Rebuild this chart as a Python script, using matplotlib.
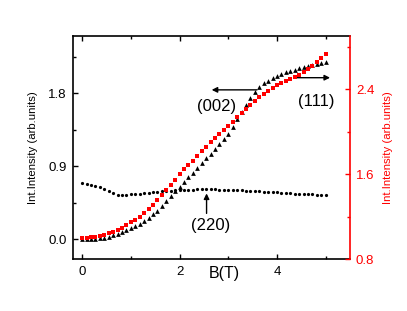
import matplotlib
matplotlib.use("Agg")
import matplotlib.pyplot as plt
from matplotlib.ticker import FixedLocator

plt.rcParams['font.family'] = ['Liberation Sans', 'DejaVu Sans']

# Field values B (T)
field = [0.000, 0.091, 0.182, 0.273, 0.364, 0.455, 0.545, 0.636, 0.727, 0.818,
         0.909, 1.000, 1.091, 1.182, 1.273, 1.364, 1.455, 1.545, 1.636, 1.727,
         1.818, 1.909, 2.000, 2.091, 2.182, 2.273, 2.364, 2.455, 2.545, 2.636,
         2.727, 2.818, 2.909, 3.000, 3.091, 3.182, 3.273, 3.364, 3.455, 3.545,
         3.636, 3.727, 3.818, 3.909, 4.000, 4.091, 4.182, 4.273, 4.364, 4.455,
         4.545, 4.636, 4.727, 4.818, 4.909, 5.000]

# (002) peak intensity, left axis (black triangles)
i002 = [0.000, 0.001, 0.003, 0.006, 0.010, 0.018, 0.030, 0.045, 0.065, 0.088,
        0.111, 0.137, 0.162, 0.192, 0.228, 0.264, 0.305, 0.352, 0.405, 0.470,
        0.530, 0.590, 0.640, 0.700, 0.760, 0.820, 0.875, 0.935, 0.995, 1.055,
        1.110, 1.170, 1.235, 1.300, 1.385, 1.480, 1.570, 1.650, 1.735, 1.810,
        1.870, 1.920, 1.955, 1.985, 2.010, 2.035, 2.055, 2.075, 2.090, 2.105,
        2.118, 2.132, 2.145, 2.158, 2.170, 2.182]

# (220) peak intensity, left axis (black circles)
i220 = [0.687, 0.678, 0.670, 0.654, 0.637, 0.617, 0.592, 0.565, 0.548, 0.543,
        0.545, 0.550, 0.555, 0.561, 0.566, 0.570, 0.575, 0.582, 0.588, 0.592,
        0.597, 0.600, 0.604, 0.607, 0.609, 0.611, 0.612, 0.613, 0.613, 0.613,
        0.612, 0.611, 0.610, 0.608, 0.606, 0.604, 0.601, 0.598, 0.595, 0.592,
        0.589, 0.585, 0.582, 0.578, 0.575, 0.571, 0.568, 0.565, 0.562, 0.559,
        0.556, 0.553, 0.550, 0.548, 0.546, 0.544]

# (111) peak intensity, right axis (red squares)
i111 = [1.003, 1.005, 1.008, 1.012, 1.019, 1.030, 1.045, 1.058, 1.075, 1.098,
        1.123, 1.148, 1.173, 1.203, 1.236, 1.274, 1.315, 1.360, 1.410, 1.455,
        1.500, 1.550, 1.600, 1.650, 1.690, 1.730, 1.775, 1.820, 1.860, 1.900,
        1.940, 1.980, 2.020, 2.057, 2.095, 2.135, 2.174, 2.215, 2.255, 2.290,
        2.325, 2.355, 2.385, 2.413, 2.440, 2.462, 2.478, 2.495, 2.512, 2.535,
        2.560, 2.590, 2.620, 2.655, 2.695, 2.735]

x_major = [0, 2, 4]
x_minor = [1, 3, 5]
yl_major = [0.0, 0.9, 1.8]
yl_minor = [0.45, 1.35, 2.25]
yr_major = [0.8, 1.6, 2.4]
yr_minor = [1.2, 2.0, 2.8]

RED = '#ff0000'

fig = plt.figure(figsize=(4.07, 3.11), dpi=100)
ax = fig.add_axes([0.179, 0.166, 0.681, 0.719])
ax2 = ax.twinx()

ax.plot(field, i002, linestyle='none', marker='^', color='black', ms=3.4,
        markeredgewidth=0, zorder=3)
ax.plot(field, i220, linestyle='none', marker='o', color='black', ms=2.3,
        markeredgewidth=0, zorder=3)
ax2.plot(field, i111, linestyle='none', marker='s', color=RED, ms=2.5,
         markeredgewidth=0, zorder=2)

ax.set_xlim(-0.19, 5.5)
ax.set_ylim(-0.25, 2.507)
ax2.set_ylim(0.8, 2.904)

ax.xaxis.set_major_locator(FixedLocator(x_major))
ax.xaxis.set_minor_locator(FixedLocator(x_minor))
ax.yaxis.set_major_locator(FixedLocator(yl_major))
ax.yaxis.set_minor_locator(FixedLocator(yl_minor))
ax2.yaxis.set_major_locator(FixedLocator(yr_major))
ax2.yaxis.set_minor_locator(FixedLocator(yr_minor))
ax.set_xticklabels([str(v) for v in x_major])
ax.set_yticklabels(['%.1f' % v for v in yl_major])
ax2.set_yticklabels(['%.1f' % v for v in yr_major])

ax.tick_params(which='both', direction='in', top=True, right=False, width=1.0,
               labelsize=9.5, pad=4.5)
ax.tick_params(which='major', length=3.5)
ax.tick_params(which='minor', length=2.0)
ax2.tick_params(which='both', direction='in', colors=RED, width=1.0,
                labelsize=9.5, pad=4.3)
ax2.tick_params(which='major', length=3.5)
ax2.tick_params(which='minor', length=2.0)

for s in ['left', 'bottom', 'top']:
    ax.spines[s].set_linewidth(1.2)
for s in ['left', 'bottom', 'top']:
    ax2.spines[s].set_visible(False)
ax.spines['right'].set_visible(False)
ax2.spines['right'].set_color(RED)
ax2.spines['right'].set_linewidth(1.2)

ax.set_ylabel('Int.Intensity (arb.units)', fontsize=8.2)
ax.yaxis.set_label_coords(-0.126, 0.5)
ax2.set_ylabel('Int.Intensity (arb.units)', fontsize=8.2, color=RED)
ax2.yaxis.set_label_coords(1.12, 0.5)
ax.set_xlabel('B(T)', fontsize=11.5)
ax.xaxis.set_label_coords(0.545, -0.062)
ax.xaxis.label.set_va('center')

arrow = dict(arrowstyle='-|>', color='black', lw=1.0, mutation_scale=8,
             shrinkA=0, shrinkB=0)
ax.annotate('', xy=(2.66, 1.84), xytext=(3.59, 1.84), arrowprops=arrow)
ax.text(2.77, 1.63, '(002)', fontsize=12, ha='center', va='center')
ax.annotate('', xy=(5.09, 1.99), xytext=(4.40, 1.99), arrowprops=arrow)
ax.text(4.80, 1.70, '(111)', fontsize=12, ha='center', va='center')
ax.annotate('', xy=(2.555, 0.563), xytext=(2.555, 0.317), arrowprops=arrow)
ax.text(2.64, 0.17, '(220)', fontsize=12, ha='center', va='center')

fig.savefig('out.png', dpi=100)
